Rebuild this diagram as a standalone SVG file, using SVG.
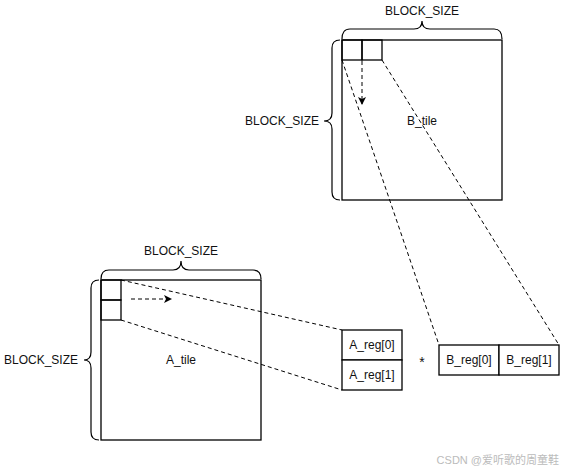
<svg xmlns="http://www.w3.org/2000/svg" width="561" height="471" viewBox="0 0 561 471">
<style>
.box{fill:#fff;stroke:#000;stroke-width:1.3}
.cell{fill:none;stroke:#000;stroke-width:1.3}
.br{fill:none;stroke:#000;stroke-width:1.2}
.dash{fill:none;stroke:#000;stroke-width:1;stroke-dasharray:4 3}
text{font-family:"Liberation Sans","DejaVu Sans",sans-serif;font-size:12px;fill:#111}
.wm{font-family:"Liberation Sans","Noto Sans CJK SC",sans-serif;font-size:11px;fill:#bbb}
</style>
<defs>
<marker id="ah" markerWidth="8" markerHeight="8" refX="7" refY="4" orient="auto" markerUnits="userSpaceOnUse">
<path d="M0,0 L8,4 L0,8 L2,4 Z" fill="#000"/>
</marker>
</defs>
<g id="B_tile">
<rect class="box" x="342" y="40" width="160" height="160"/>
<rect class="cell" x="342" y="40" width="20" height="20"/>
<rect class="cell" x="362" y="40" width="20" height="20"/>
<text x="422" y="125" text-anchor="middle">B_tile</text>
</g>
<g id="B_brace_top">
<path class="br" d="M342,39 Q342,29 350,29 L414,29 Q422,29 422,21 Q422,29 430,29 L494,29 Q502,29 502,39"/>
<text x="422" y="15" text-anchor="middle">BLOCK_SIZE</text>
</g>
<g id="B_brace_left">
<path class="br" d="M340,40 Q332,40 332,48 L332,113 Q332,121 324,121 Q332,121 332,129 L332,192 Q332,200 340,200"/>
<text x="319" y="125" text-anchor="end">BLOCK_SIZE</text>
</g>
<g id="A_tile">
<rect class="box" x="101" y="280" width="160" height="160"/>
<rect class="cell" x="101" y="280" width="20" height="20"/>
<rect class="cell" x="101" y="300" width="20" height="20"/>
<text x="181" y="364" text-anchor="middle">A_tile</text>
</g>
<g id="A_brace_top">
<path class="br" d="M101,279 Q101,270 109,270 L173,270 Q181,270 181,261 Q181,270 189,270 L253,270 Q261,270 261,279"/>
<text x="181" y="255" text-anchor="middle">BLOCK_SIZE</text>
</g>
<g id="A_brace_left">
<path class="br" d="M99,280 Q91,280 91,288 L91,352 Q91,360 84,360 Q91,360 91,368 L91,432 Q91,440 99,440"/>
<text x="78" y="364" text-anchor="end">BLOCK_SIZE</text>
</g>
<g id="A_reg">
<rect class="box" x="342" y="330" width="60" height="30"/>
<rect class="box" x="342" y="360" width="60" height="30"/>
<text x="372" y="349" text-anchor="middle">A_reg[0]</text>
<text x="372" y="379" text-anchor="middle">A_reg[1]</text>
</g>
<g id="star">
<text x="422" y="367" text-anchor="middle" style="font-size:14px">*</text>
</g>
<g id="B_reg">
<rect class="box" x="439" y="345" width="60" height="30"/>
<rect class="box" x="499" y="345" width="60" height="30"/>
<text x="469" y="364" text-anchor="middle">B_reg[0]</text>
<text x="529" y="364" text-anchor="middle">B_reg[1]</text>
</g>
<g id="connectors">
<line class="dash" x1="362" y1="61" x2="362" y2="104" marker-end="url(#ah)"/>
<line class="dash" x1="131" y1="299" x2="171" y2="299" marker-end="url(#ah)"/>
<line class="dash" x1="121" y1="280" x2="342" y2="330"/>
<line class="dash" x1="121" y1="320" x2="342" y2="390"/>
<line class="dash" x1="342" y1="60" x2="439" y2="345"/>
<line class="dash" x1="382" y1="60" x2="559" y2="345"/>
</g>
<text class="wm" x="559" y="464" text-anchor="end">CSDN @爱听歌的周童鞋</text>
</svg>
